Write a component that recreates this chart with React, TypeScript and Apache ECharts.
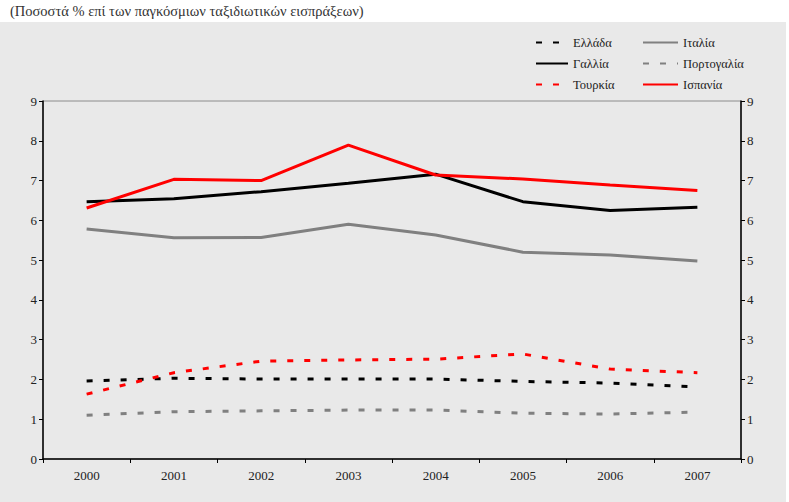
import React, { useEffect, useRef } from "react";
import * as echarts from "echarts";

const years = ["2000", "2001", "2002", "2003", "2004", "2005", "2006", "2007"];
const greece = [1.96, 2.03, 2.01, 2.01, 2.01, 1.95, 1.91, 1.81];
const italy = [5.78, 5.56, 5.57, 5.9, 5.63, 5.2, 5.13, 4.98];
const france = [6.47, 6.54, 6.72, 6.93, 7.16, 6.47, 6.25, 6.33];
const portugal = [1.1, 1.19, 1.21, 1.23, 1.23, 1.15, 1.13, 1.18];
const turkey = [1.63, 2.17, 2.46, 2.49, 2.51, 2.64, 2.26, 2.17];
const spain = [6.31, 7.03, 7.0, 7.89, 7.14, 7.04, 6.89, 6.75];

const titleText = "(Ποσοστά % επί των παγκόσμιων ταξιδιωτικών εισπράξεων)";

const FONT = "Liberation Serif";

export default function App() {
  const ref = useRef<HTMLDivElement>(null);
  useEffect(() => {
    if (!ref.current) return;
    const chart = echarts.init(ref.current, undefined, { renderer: "svg" });
    const dash = [6, 11];
    const mk = (name: string, data: number[], color: string, dashed: boolean) => ({
      name,
      type: "line",
      data,
      symbol: "none",
      lineStyle: { color, width: 3, type: dashed ? dash : "solid" },
      itemStyle: { color },
      z: 3,
    });
    const yAxisCommon = {
      type: "value",
      min: 0,
      max: 9,
      interval: 1,
      axisLine: { show: true, lineStyle: { color: "#000", width: 1.5 } },
      axisTick: { show: true, length: 4, lineStyle: { color: "#000", width: 1 } },
      axisLabel: { color: "#222", fontFamily: FONT, fontSize: 13, margin: 6 },
      splitLine: { show: false },
    };
    const legendCommon = {
      orient: "vertical",
      top: 31,
      itemHeight: 14,
      itemGap: 8,
      itemStyle: { opacity: 0 },
      textStyle: { fontFamily: FONT, fontSize: 12.5, color: "#222" },
    };
    chart.setOption({
      animation: false,
      backgroundColor: "#ffffff",
      textStyle: { fontFamily: FONT },
      graphic: [
        {
          type: "rect",
          shape: { x: 0, y: 22, width: 786, height: 480 },
          style: { fill: "#e9e9e9" },
          z: -10,
          silent: true,
        },
        {
          type: "text",
          left: 10,
          top: 3,
          style: { text: titleText, fill: "#333", fontFamily: FONT, fontSize: 14.5 },
        },
      ],
      grid: {
        left: 43,
        right: 48,
        top: 101,
        bottom: 43,
        show: true,
        borderColor: "#8c8c8c",
        borderWidth: 1,
        backgroundColor: "transparent",
      },
      legend: [
        {
          ...legendCommon,
          left: 530,
          itemWidth: 32,
          data: ["Ελλάδα", "Γαλλία", "Τουρκία"],
        },
        {
          ...legendCommon,
          left: 637,
          itemWidth: 35,
          data: ["Ιταλία", "Πορτογαλία", "Ισπανία"],
        },
      ],
      xAxis: {
        type: "category",
        data: years,
        boundaryGap: true,
        axisLine: { show: true, lineStyle: { color: "#000", width: 1.5 } },
        axisTick: { show: true, length: 4, lineStyle: { color: "#000" } },
        axisLabel: { color: "#222", fontFamily: FONT, fontSize: 13, margin: 10 },
      },
      yAxis: [
        { ...yAxisCommon, position: "left" },
        { ...yAxisCommon, position: "right" },
      ],
      series: [
        mk("Ελλάδα", greece, "#000000", true),
        mk("Ιταλία", italy, "#808080", false),
        mk("Γαλλία", france, "#000000", false),
        mk("Πορτογαλία", portugal, "#808080", true),
        mk("Τουρκία", turkey, "#ff0000", true),
        mk("Ισπανία", spain, "#ff0000", false),
      ],
    });
    return () => chart.dispose();
  }, []);
  return (
    <div
      ref={ref}
      style={{ position: "absolute", left: 0, top: 0, width: 789, height: 502 }}
    />
  );
}
